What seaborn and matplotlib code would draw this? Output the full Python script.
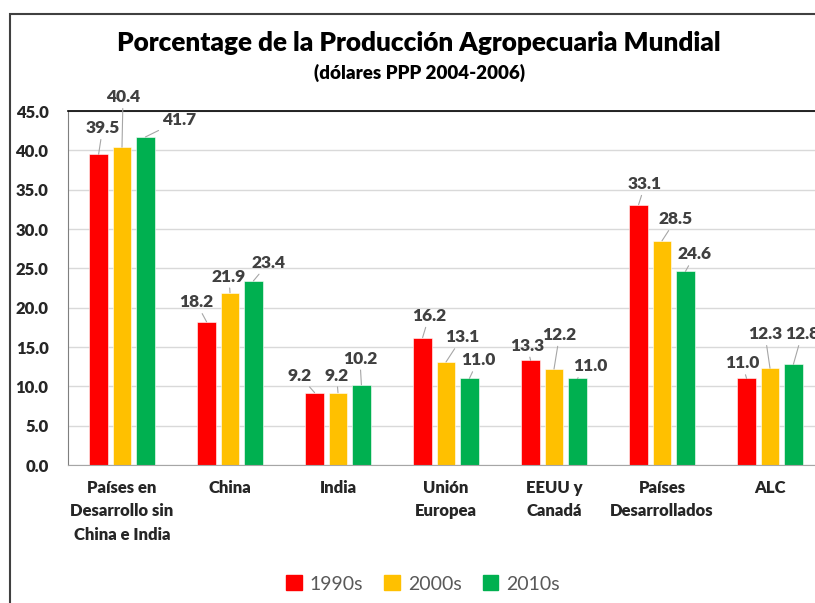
import pandas as pd
import numpy as np
import matplotlib.pyplot as plt
import matplotlib.patches as mpatches
import seaborn as sns

# data
categories = ['Países en\nDesarrollo sin\nChina e India', 'China', 'India',
              'Unión\nEuropea', 'EEUU y\nCanadá', 'Países\nDesarrollados', 'ALC']
decades = ['1990s', '2000s', '2010s']
vals_1990s = [39.5, 18.2, 9.2, 16.2, 13.3, 33.1, 11.0]
vals_2000s = [40.4, 21.9, 9.2, 13.1, 12.2, 28.5, 12.3]
vals_2010s = [41.7, 23.4, 10.2, 11.0, 11.0, 24.6, 12.8]
yticks = [0, 5, 10, 15, 20, 25, 30, 35, 40, 45]

colors = ['#FF0000', '#FFC000', '#00B050']

# label offsets in pixels (dx, dy up) from top of each bar, per decade
label_offsets = [
    [(4, 26), (-10.5, 19.5), (-15, 17), (6.5, 21.5), (-3.5, 14.5), (6.5, 20.5), (-4.5, 15)],
    [(1, 50), (-1, 16), (-1.5, 17), (16, 24.5), (5.5, 34), (14, 21.5), (-5, 34)],
    [(33.5, 16.5), (15, 18), (-1.5, 26), (8.5, 18), (12.5, 12), (9.5, 17), (8.5, 30)],
]

df = pd.DataFrame({
    'cat': categories * 3,
    'decade': np.repeat(decades, len(categories)),
    'value': vals_1990s + vals_2000s + vals_2010s,
})

sns.set_style('white')
plt.rcParams['font.family'] = ['Lato', 'DejaVu Sans']

fig = plt.figure(figsize=(8.15, 6.03), dpi=100)
ax = fig.add_axes([68 / 815, 1 - 465 / 603, (824 - 68) / 815, (465 - 111) / 603])

sns.barplot(data=df, x='cat', y='value', hue='decade', palette=colors,
            width=0.65, gap=0.19, ax=ax, legend=True, saturation=1,
            edgecolor='white', linewidth=0.4)

ax.set_ylim(0, 45)
ax.set_xlim(-0.5, len(categories) - 0.5)
ax.set_yticks(yticks)
ax.set_yticklabels([f'{t:.1f}' for t in yticks], fontsize=12, fontweight='heavy')
ax.yaxis.grid(True, color='#d9d9d9', lw=1)
ax.set_axisbelow(True)
ax.tick_params(axis='both', length=0)
ax.tick_params(axis='y', pad=14)
ax.tick_params(axis='x', pad=11)
for lab in ax.get_xticklabels():
    lab.set_fontsize(12)
    lab.set_fontweight('heavy')
    lab.set_linespacing(1.55)
ax.set_xlabel('')
ax.set_ylabel('')

ax.spines['top'].set_color('black')
ax.spines['top'].set_linewidth(1.2)
ax.spines['left'].set_color('#7f7f7f')
ax.spines['bottom'].set_color('#a6a6a6')
ax.spines['right'].set_visible(False)

# data labels with leader lines
for k, cont in enumerate(ax.containers):
    for i, p in enumerate(cont.patches):
        x = p.get_x() + p.get_width() / 2
        h = p.get_height()
        dx, dy = label_offsets[k][i]
        ax.annotate(f'{h:.1f}', xy=(x, h), xytext=(dx, dy),
                    textcoords='offset pixels', ha='center', va='center',
                    fontsize=12.5, fontweight='heavy', color='#404040',
                    annotation_clip=False,
                    arrowprops=dict(arrowstyle='-', color='#a6a6a6', lw=0.8,
                                    shrinkA=0, shrinkB=0))

# legend
handles = [mpatches.Patch(color=c) for c in colors]
ax.legend(handles, decades, loc='center', bbox_to_anchor=(423 / 815, 1 - 584 / 603),
          bbox_transform=fig.transFigure, ncol=3, frameon=False,
          handlelength=0.8, handleheight=0.8, handletextpad=0.4, columnspacing=1.1,
          prop={'size': 14}, labelcolor='#595959')

fig.text(419 / 815, 1 - 43 / 603, 'Porcentage de la Producción Agropecuaria Mundial',
         ha='center', va='center', fontsize=18.8, fontweight='heavy', color='black')
fig.text(419 / 815, 1 - 73 / 603, '(dólares PPP 2004-2006)',
         ha='center', va='center', fontsize=13.5, fontweight='heavy', color='black')

# outer chart frame (cut off at right and bottom like the reference)
frame = mpatches.Rectangle((10 / 815, -0.1), 1.2, 1 - 14 / 603 + 0.1,
                           transform=fig.transFigure, fill=False,
                           edgecolor='#404040', lw=1.5)
fig.patches.append(frame)

fig.savefig('out.png', dpi=100)
